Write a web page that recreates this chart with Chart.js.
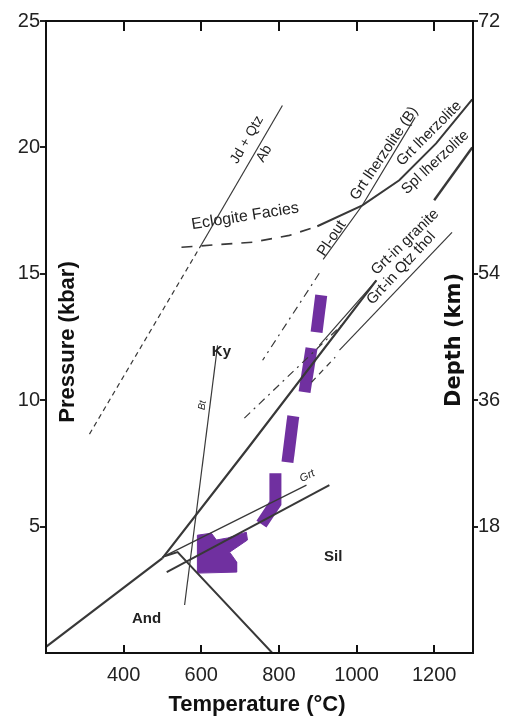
<!DOCTYPE html>
<html><head><meta charset="utf-8">
<script src="https://cdn.jsdelivr.net/npm/chart.js@4.4.0/dist/chart.umd.min.js"></script>
<style>html,body{margin:0;padding:0;background:#fff;}canvas{display:block;}</style>
</head><body>
<canvas id="c" width="509" height="718"></canvas>
<script>
// ---- axis ticks ----
const tempTicks = [400, 600, 800, 1000, 1200];
const pressureTicks = [5, 10, 15, 20, 25];
const depthTickPressures = [5, 10, 15, 25];
const depthTickLabels = ['18', '36', '54', '72'];

// ---- reaction lines [T (°C), P (kbar)] ----
const andKy = [[200, 0.24], [500, 3.75]];
const kySil = [[500, 3.75], [720, 8.1], [1051, 14.74]];
const andSil = [[505, 3.83], [539, 3.99], [783, 0]];
const btLine = [[642, 12.17], [557, 1.9]];
const grtUpper = [[500, 3.79], [871, 6.64]];
const grtLower = [[511, 3.2], [930, 6.64]];
const jdQtzAb = [[601, 16.17], [809, 21.66]];
const jdDashed = [[312, 8.66], [601, 16.17]];
const eclogiteDashed = [[549, 16.05], [732, 16.25], [827, 16.52], [899, 16.88]];
const grtLherz = [[899, 16.88], [1015, 17.71], [1110, 18.7], [1205, 20.16], [1298, 21.9]];
const splLherz = [[1200, 17.91], [1298, 20.0]];
const plOut = [[914, 15.57], [1015, 17.71], [1151, 21.19]];
const plOutDashed = [[904, 15.02], [758, 11.58]];
const dashB = [[711, 9.29], [961, 12.96]];
const dashC = [[884, 10.71], [945, 11.7]];
const grtInGranite = [[904, 12.17], [1051, 14.74]];
const grtInQtzThol = [[956, 11.98], [1246, 16.64]];

// ---- P-T path (purple) ----
const pathDash1 = [[909, 14.15], [897, 12.69]];
const pathDash2 = [[884, 12.06], [866, 10.32]];
const pathDash3 = [[837, 9.37], [822, 7.55]];
const pathDash4 = [[791, 7.11], [791, 5.93], [755, 5.10]];
const arrowHead = [[590, 4.66], [626, 4.74], [639, 4.47], [668, 4.55], [716, 4.78], [719, 4.47],
                   [673, 3.99], [691, 3.60], [691, 3.20], [590, 3.16], [590, 4.66]];

// ---- text labels ----
const labels = [
  {t: 'Jd + Qtz', x: 718, y: 20.3, a: -60, f: '14px'},
  {t: 'Ab', x: 762, y: 19.75, a: -60, f: '14px'},
  {t: 'Eclogite Facies', x: 713, y: 17.27, a: -9, f: '16px'},
  {t: 'Grt lherzolite (B)', x: 1071, y: 19.76, a: -56, f: '15px'},
  {t: 'Pl-out', x: 936, y: 16.4, a: -56, f: '15px'},
  {t: 'Grt lherzolite', x: 1187, y: 20.55, a: -45, f: '15px'},
  {t: 'Spl lherzolite', x: 1203, y: 19.41, a: -43, f: '15px'},
  {t: 'Grt-in granite', x: 1125, y: 16.25, a: -44, f: '15px'},
  {t: 'Grt-in Qtz thol', x: 1115, y: 15.22, a: -47, f: '15px'},
  {t: 'Ky', x: 652, y: 11.9, a: 0, f: 'bold 15px'},
  {t: 'Sil', x: 940, y: 3.79, a: 0, f: 'bold 15px'},
  {t: 'And', x: 459, y: 1.34, a: 0, f: 'bold 15px'},
  {t: 'Bt', x: 603, y: 9.8, a: -82, f: 'italic 10px'},
  {t: 'Grt', x: 873, y: 7.0, a: -27, f: 'italic 11px'}
];

const FAM = '"Liberation Sans", Arial, sans-serif';
const LINE = '#383838';
const PURPLE = '#7030A0';

function pts(a) { return a.map(p => ({x: p[0], y: p[1]})); }
function ln(a, w, dash, color) {
  return {data: pts(a), showLine: true, pointRadius: 0, borderWidth: w, borderColor: color || LINE,
          borderDash: dash || [], fill: false, tension: 0, borderCapStyle: 'butt'};
}

const datasets = [
  ln(andKy, 2.2), ln(kySil, 2.2), ln(andSil, 2), ln(btLine, 1.2),
  ln(grtUpper, 1.3), ln(grtLower, 2), ln(jdQtzAb, 1.2), ln(jdDashed, 1.2, [5, 4]),
  ln(eclogiteDashed, 1.6, [11, 9]), ln(grtLherz, 2), ln(splLherz, 2.4),
  ln(plOut, 1.2), ln(plOutDashed, 1.2, [8, 5, 2, 5]), ln(dashB, 1.2, [8, 5, 2, 5]),
  ln(dashC, 1.2, [6, 5]), ln(grtInGranite, 1.2), ln(grtInQtzThol, 1.2),
  ln(pathDash1, 12, null, PURPLE), ln(pathDash2, 12, null, PURPLE),
  ln(pathDash3, 12, null, PURPLE), ln(pathDash4, 12, null, PURPLE),
  Object.assign(ln(arrowHead, 1, null, PURPLE), {fill: 'shape', backgroundColor: PURPLE, borderJoinStyle: 'miter'})
];

const decor = {
  id: 'decor',
  afterDatasetsDraw(chart) {
    const {ctx, chartArea: ca, scales} = chart;
    const xs = scales.x, ys = scales.y;
    ctx.save();
    ctx.fillStyle = '#222';
    ctx.textAlign = 'center';
    ctx.textBaseline = 'middle';
    labels.forEach(l => {
      ctx.save();
      ctx.translate(xs.getPixelForValue(l.x), ys.getPixelForValue(l.y));
      ctx.rotate(l.a * Math.PI / 180);
      ctx.font = l.f + ' ' + FAM;
      ctx.fillText(l.t, 0, 0);
      ctx.restore();
    });
    ctx.strokeStyle = '#111';
    ctx.lineWidth = 2;
    ctx.strokeRect(ca.left, ca.top, ca.right - ca.left, ca.bottom - ca.top);
    tempTicks.forEach(v => {
      const px = Math.round(xs.getPixelForValue(v));
      ctx.beginPath();
      ctx.moveTo(px, ca.top); ctx.lineTo(px, ca.top + 10);
      ctx.moveTo(px, ca.bottom); ctx.lineTo(px, ca.bottom - 8);
      ctx.stroke();
    });
    ctx.fillStyle = '#111';
    ctx.font = 'bold 22px ' + FAM;
    ctx.save();
    ctx.translate(68, 342); ctx.rotate(-Math.PI / 2);
    ctx.fillText('Pressure (kbar)', 0, 0);
    ctx.restore();
    ctx.save();
    ctx.font = 'bold 21px "DejaVu Sans", sans-serif';
    ctx.translate(455, 340); ctx.rotate(-Math.PI / 2);
    ctx.fillText('Depth (km)', 0, 0);
    ctx.restore();
    ctx.fillText('Temperature (°C)', 257, 705);
    ctx.restore();
  }
};

new Chart(document.getElementById('c'), {
  type: 'scatter',
  data: {datasets},
  plugins: [decor],
  options: {
    responsive: false, animation: false, devicePixelRatio: 1,
    layout: {padding: {top: 21, left: 0, right: 0, bottom: 0}},
    plugins: {legend: {display: false}, tooltip: {enabled: false}},
    scales: {
      x: {
        type: 'linear', min: 200, max: 1300,
        afterBuildTicks: s => { s.ticks = tempTicks.map(v => ({value: v})); },
        afterFit: s => { s.height = 65; },
        grid: {display: false, drawTicks: false}, border: {display: false},
        ticks: {font: {size: 20, family: FAM}, color: '#222', padding: 10, maxRotation: 0, autoSkip: false,
                callback: v => String(v)}
      },
      y: {
        type: 'linear', position: 'left', min: 0, max: 25,
        afterBuildTicks: s => { s.ticks = pressureTicks.map(v => ({value: v})); },
        afterFit: s => { s.width = 46; },
        grid: {drawOnChartArea: false, drawTicks: true, tickLength: 6, color: '#222', lineWidth: 2},
        border: {display: false},
        ticks: {font: {size: 20, family: FAM}, color: '#222', padding: 0, autoSkip: false,
                callback: v => String(v)}
      },
      y2: {
        type: 'linear', position: 'right', min: 0, max: 25,
        afterBuildTicks: s => { s.ticks = depthTickPressures.map(v => ({value: v})); },
        afterFit: s => { s.width = 36; },
        grid: {drawOnChartArea: false, drawTicks: true, tickLength: 5, color: '#222', lineWidth: 2},
        border: {display: false},
        ticks: {font: {size: 20, family: FAM}, color: '#222', padding: 0, autoSkip: false,
                callback: v => depthTickLabels[depthTickPressures.indexOf(v)]}
      }
    }
  }
});
</script>
</body></html>
